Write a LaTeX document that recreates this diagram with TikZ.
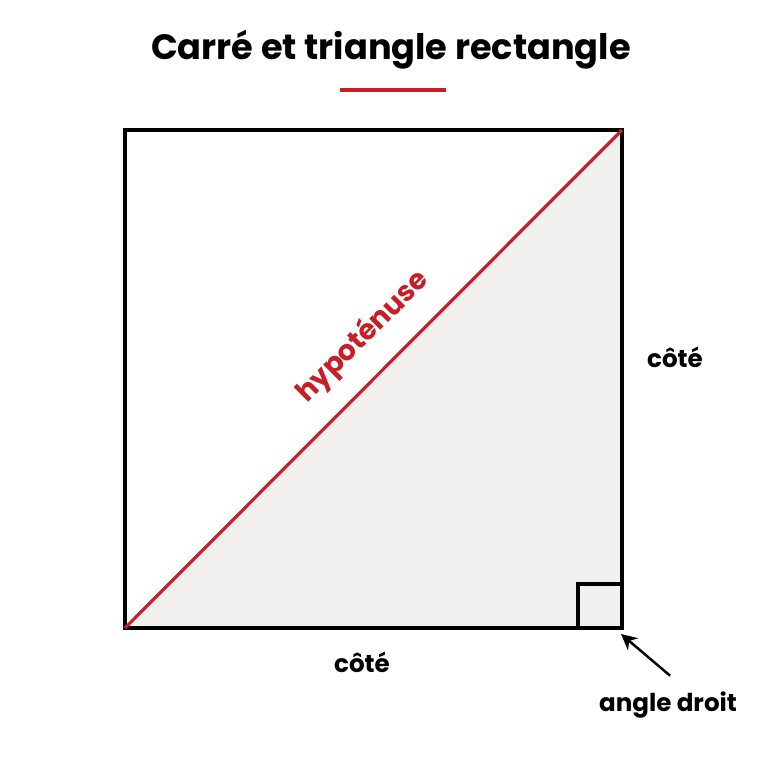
\documentclass[tikz,border=0pt]{standalone}
\usepackage{fontspec}
\setmainfont{Poppins}[BoldFont={* Bold}]
\usepackage{tikz}
\usetikzlibrary{arrows.meta}

\definecolor{hypred}{RGB}{200,30,40}
\definecolor{trifill}{RGB}{242,240,238}

\begin{document}
\begin{tikzpicture}
            [x=0.01cm,y=-0.01cm,thick,every node/.style={font=\bfseries},
             edge/.style={line width=0.9pt,black},
             lbl/.style={font=\bfseries\fontsize{7}{8}\selectfont}]
            \useasboundingbox[fill=white] (0,0) rectangle (768,768);
            \coordinate (A) at (125,628);
            \coordinate (B) at (622,628);
            \coordinate (C) at (622,130);
            \coordinate (D) at (125,130);
            %
            \node (title) at (391,50) {\fontsize{10}{12}\selectfont Carré et triangle rectangle};
            \coordinate (u1) at (340,90);
            \coordinate (u2) at (446,90);
            \draw[line width=0.9pt, hypred] (u1) -- (u2);
            %
            \fill[trifill] (A) -- (B) -- (C) -- cycle;
            \draw[edge] (578,628) -- (578,584) -- (622,584);
            \draw[edge] (A) -- (B) -- (C) -- (D) -- cycle;
            \draw[line width=0.9pt, hypred] (A) -- (C);
            %
            \node[lbl, text=hypred, rotate=45, font=\bfseries\fontsize{8}{9}\selectfont] (hyp) at (363,337) {hypoténuse};
            \node[lbl] (c1) at (675,357) {côté};
            \node[lbl] (c2) at (362,662) {côté};
            \node[lbl] (ad) at (668,705) {angle droit};
            \coordinate (tip) at (621,634);
            \draw[line width=0.7pt, -{Stealth[length=4.5pt,width=4.5pt]}] (ad.north) ++(2,-3) coordinate (tail) (tail) -- (tip);
        \end{tikzpicture}
\end{document}
